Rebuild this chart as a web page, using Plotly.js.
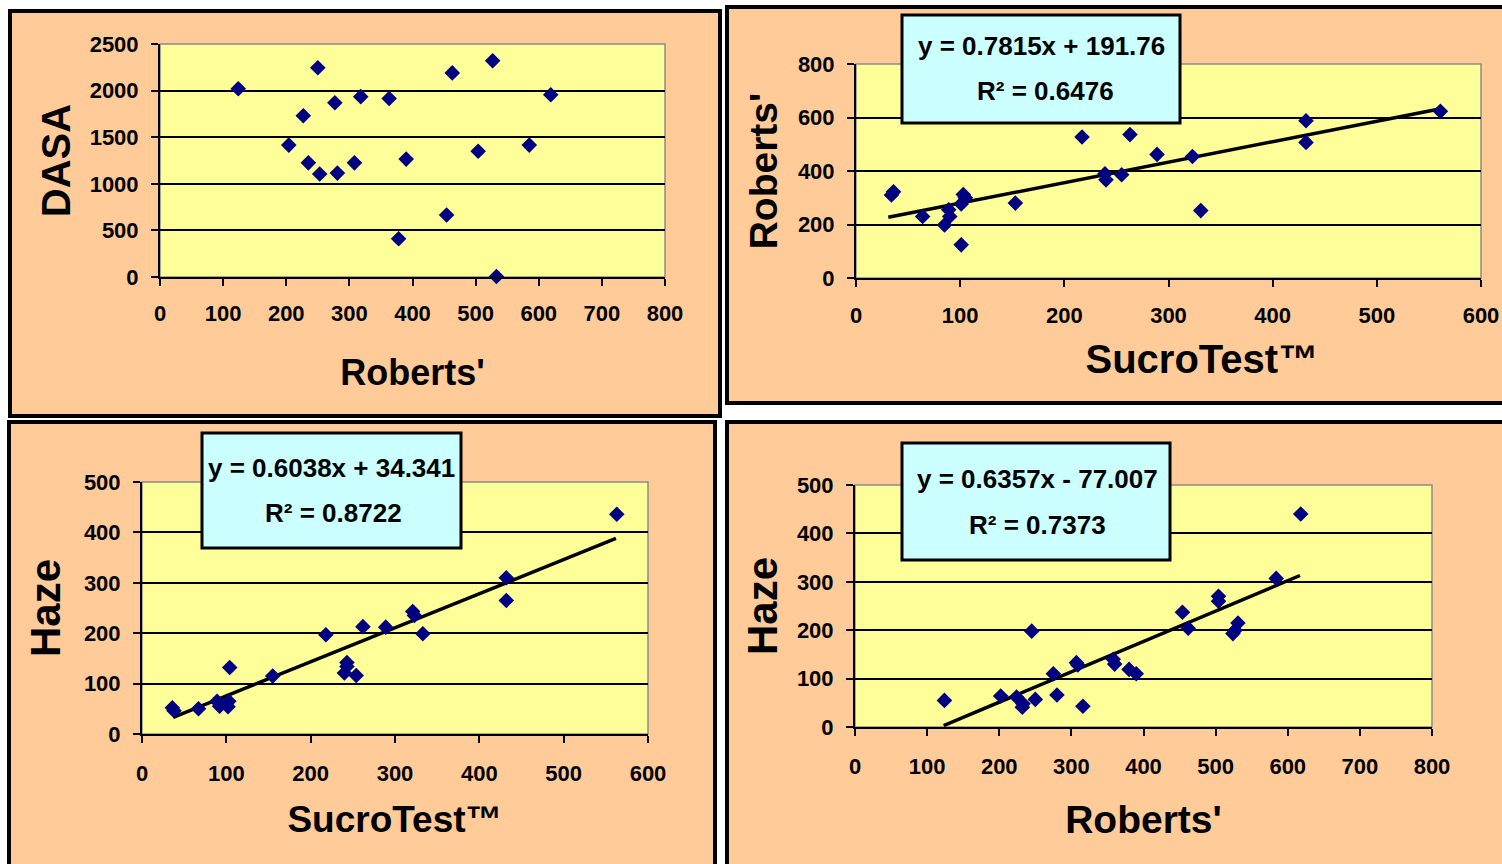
<!DOCTYPE html>
<html>
<head>
<meta charset="utf-8">
<script src="https://cdn.plot.ly/plotly-3.0.1.min.js"></script>
<style>
  html, body { margin: 0; padding: 0; background: #ffffff; }
  #chart { width: 1502px; height: 864px; }
</style>
</head>
<body>
<div id="chart"></div>
<script>
// ---------------- DATA ----------------
// Panel 1: DASA vs Roberts'
const roberts1 = [124, 250, 227, 204, 235, 253, 277, 281, 308, 318, 363, 390, 378, 454, 463, 504, 527, 533, 585, 619];
const dasa1    = [2020, 2245, 1730, 1415, 1225, 1105, 1870, 1115, 1225, 1935, 1915, 1265, 410, 665, 2190, 1350, 2320, 5, 1415, 1955];

// Panel 2: Roberts' vs SucroTest
const sucro2   = [34, 36, 64, 85, 90, 89, 103, 105, 101, 101, 153, 217, 240, 239, 255, 263, 289, 323, 331, 432, 432, 561];
const roberts2 = [310, 322, 230, 198, 230, 255, 312, 300, 277, 124, 280, 527, 367, 390, 386, 536, 462, 454, 252, 588, 507, 623];
const trend2X  = [31, 560];
const trend2Y  = [227, 632];

// Panel 3: Haze vs SucroTest
const sucro3   = [36, 38, 67, 89, 92, 102, 103, 104, 155, 218, 240, 243, 243, 254, 262, 289, 321, 323, 333, 432, 432, 563];
const haze3    = [52, 46, 50, 65, 55, 54, 65, 132, 115, 197, 121, 142, 134, 116, 213, 212, 243, 235, 199, 310, 265, 436];
const trend3X  = [37, 562];
const trend3Y  = [33, 388];

// Panel 4: Haze vs Roberts'
const roberts4 = [124, 202, 224, 232, 233, 245, 250, 275, 280, 307, 309, 316, 358, 360, 380, 390, 454, 462, 504, 504, 524, 527, 531, 584, 618];
const haze4    = [55, 64, 62, 41, 48, 198, 57, 110, 66, 133, 128, 43, 140, 130, 119, 110, 237, 204, 270, 260, 193, 200, 215, 307, 440];
const trend4X  = [123, 617];
const trend4Y  = [3, 313];

// Labels
const eqLines = ["y = 0.7815x + 191.76", "y = 0.6038x + 34.341", "y = 0.6357x - 77.007"];
const r2Lines = ["R² = 0.6476", "R² = 0.8722", "R² = 0.7373"];
const xTitles = ["Roberts'", "SucroTest™", "SucroTest™", "Roberts'"];
const yTitles = ["DASA", "Roberts'", "Haze", "Haze"];

// ---------------- LAYOUT (pixel geometry) ----------------
const W = 1502, H = 864;
const fx = p => p / W;
const fy = p => 1 - p / H;

// plot areas: [left, right, top, bottom] in px
const areas = [
  [160, 665, 44, 277],
  [856, 1481, 64, 278],
  [142, 648, 482, 734],
  [855, 1432, 485, 727]
];
// panel frames (px)
const frames = [
  [10, 720, 11, 416],
  [727, 1512, 7, 403],
  [9, 715, 422, 880],
  [727, 1512, 422, 880]
];
// per-panel text styling
const NB = '\u00A0';
const style = [
  {xts: 9,  xtSize: 36, xtOff: 34, ytSize: 40, ytOff: 7, xPad: ''},
  {xts: 10, xtSize: 40, xtOff: 18, ytSize: 39, ytOff: 8, xPad: '\u200B' + NB.repeat(6)},
  {xts: 12, xtSize: 37, xtOff: 21, ytSize: 42, ytOff: 10, xPad: ''},
  {xts: 12, xtSize: 39, xtOff: 27, ytSize: 42, ytOff: 6, xPad: ''}
];
// equation boxes (px) for panels 2,3,4 and text line centres
const eqBoxes = [
  {box: [902, 1180, 15, 123], l1: [1041, 46], l2: [1045, 91]},
  {box: [202, 461, 433, 548],  l1: [331, 468], l2: [333, 513]},
  {box: [902, 1170, 443, 560], l1: [1037, 479], l2: [1037, 525]}
];

const MARK = '#000080';
const FONT = 'Liberation Sans, Arial, sans-serif';

function scatter(x, y, n) {
  const s = n === 1 ? '' : String(n);
  return {
    type: 'scatter', mode: 'markers', x: x, y: y,
    xaxis: 'x' + s, yaxis: 'y' + s,
    marker: {symbol: 'diamond', size: 12, color: MARK, line: {width: 0}},
    cliponaxis: false, showlegend: false, hoverinfo: 'x+y'
  };
}
function trend(x, y, n) {
  return {
    type: 'scatter', mode: 'lines', x: x, y: y,
    xaxis: 'x' + n, yaxis: 'y' + n,
    line: {color: '#000000', width: 3.5},
    cliponaxis: false, showlegend: false, hoverinfo: 'skip'
  };
}

const data = [
  scatter(roberts1, dasa1, 1),
  trend(trend2X, trend2Y, 2), scatter(sucro2, roberts2, 2),
  trend(trend3X, trend3Y, 3), scatter(sucro3, haze3, 3),
  trend(trend4X, trend4Y, 4), scatter(roberts4, haze4, 4)
];

const ranges = [
  {x: [0, 800], dx: 100, y: [0, 2500], dy: 500},
  {x: [0, 600], dx: 100, y: [0, 800], dy: 200},
  {x: [0, 600], dx: 100, y: [0, 500], dy: 100},
  {x: [0, 800], dx: 100, y: [0, 500], dy: 100}
];

const layout = {
  width: W, height: H,
  margin: {l: 0, r: 0, t: 0, b: 0, pad: 0},
  paper_bgcolor: '#ffffff',
  plot_bgcolor: 'rgba(0,0,0,0)',
  font: {family: FONT, color: '#000000', size: 22},
  showlegend: false,
  shapes: [],
  annotations: []
};

areas.forEach((a, i) => {
  const n = i + 1, s = n === 1 ? '' : String(n);
  const r = ranges[i], st = style[i];
  layout['xaxis' + s] = {
    domain: [fx(a[0]), fx(a[1])], anchor: 'y' + s,
    range: r.x, dtick: r.dx, tick0: 0, fixedrange: true,
    showgrid: false, zeroline: false,
    showline: true, linecolor: '#000000', linewidth: 2,
    ticks: 'outside', ticklen: 7, tickwidth: 2, tickcolor: '#000000',
    ticklabelstandoff: st.xts,
    tickfont: {family: FONT, size: 22, color: '#000000', weight: 'bold'},
    title: {text: st.xPad + xTitles[i], standoff: st.xtOff,
            font: {family: FONT, size: st.xtSize, color: '#000000', weight: 'bold'}}
  };
  layout['yaxis' + s] = {
    domain: [fy(a[3]), fy(a[2])], anchor: 'x' + s,
    range: r.y, dtick: r.dy, tick0: 0, fixedrange: true,
    showgrid: true, gridcolor: '#000000', gridwidth: 2, zeroline: false,
    showline: true, linecolor: '#000000', linewidth: 2,
    ticks: 'outside', ticklen: 7, tickwidth: 2, tickcolor: '#000000',
    ticklabelstandoff: 8,
    tickfont: {family: FONT, size: 22, color: '#000000', weight: 'bold'},
    title: {text: yTitles[i], standoff: st.ytOff,
            font: {family: FONT, size: st.ytSize, color: '#000000', weight: 'bold'}}
  };
});

// frames (peach with black border)
frames.forEach(f => {
  layout.shapes.push({
    type: 'rect', xref: 'paper', yref: 'paper', layer: 'below',
    x0: fx(f[0]), x1: fx(f[1]), y0: fy(f[3]), y1: fy(f[2]),
    fillcolor: '#FFCC99', line: {color: '#000000', width: 4}
  });
});
// plot areas (light yellow with grey border)
areas.forEach(a => {
  layout.shapes.push({
    type: 'rect', xref: 'paper', yref: 'paper', layer: 'below',
    x0: fx(a[0]), x1: fx(a[1]), y0: fy(a[3]), y1: fy(a[2]),
    fillcolor: '#FFFF99', line: {color: '#8c8c8c', width: 1.5}
  });
});
// equation boxes
eqBoxes.forEach((e, i) => {
  const b = e.box;
  layout.shapes.push({
    type: 'rect', xref: 'paper', yref: 'paper', layer: 'above',
    x0: fx(b[0]), x1: fx(b[1]), y0: fy(b[3]), y1: fy(b[2]),
    fillcolor: '#CCFFFF', line: {color: '#000000', width: 3}
  });
  layout.annotations.push({
    xref: 'paper', yref: 'paper', x: fx(e.l1[0]), y: fy(e.l1[1]),
    xanchor: 'center', yanchor: 'middle', showarrow: false,
    text: eqLines[i], font: {family: FONT, size: 26, color: '#000000', weight: 'bold'}
  });
  layout.annotations.push({
    xref: 'paper', yref: 'paper', x: fx(e.l2[0]), y: fy(e.l2[1]),
    xanchor: 'center', yanchor: 'middle', showarrow: false,
    text: r2Lines[i], font: {family: FONT, size: 26, color: '#000000', weight: 'bold'}
  });
});

Plotly.newPlot('chart', data, layout, {displayModeBar: false, staticPlot: true});
</script>
</body>
</html>
